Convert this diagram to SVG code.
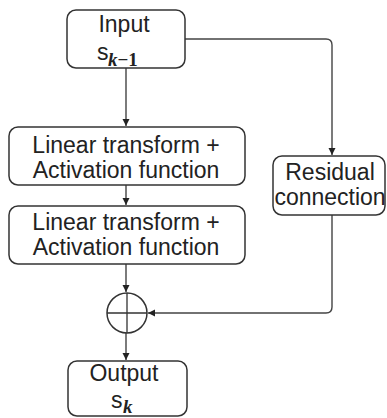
<svg xmlns="http://www.w3.org/2000/svg" width="387" height="418" viewBox="0 0 387 418">
<style>
.box{fill:#fff;stroke:#333;stroke-width:1.5}
.t{font-family:"Liberation Sans",Arial,sans-serif;font-size:23px;fill:#222;text-anchor:middle}
.s{font-family:"Liberation Sans",Arial,sans-serif;font-size:23px;fill:#222}
.m{font-family:"Liberation Serif","Times New Roman",serif;font-weight:bold;font-size:19px;fill:#222}
.c{fill:none;stroke:#444;stroke-width:1.4}
</style>
<defs>
<marker id="ah" markerWidth="8" markerHeight="8" refX="7" refY="4" orient="auto" markerUnits="userSpaceOnUse">
<path d="M0,0.5 L7,4 L0,7.5 Z" fill="#222"/>
</marker>
</defs>
<g id="connectors">
<path class="c" d="M126,68 V126" marker-end="url(#ah)"/>
<path class="c" d="M126,185 V205" marker-end="url(#ah)"/>
<path class="c" d="M126,264 V292" marker-end="url(#ah)"/>
<path class="c" d="M126,333 V360" marker-end="url(#ah)"/>
<path class="c" d="M185,39 H326 Q332,39 332,45 V155" marker-end="url(#ah)"/>
<path class="c" d="M332,215 V307 Q332,313 326,313 H148" marker-end="url(#ah)"/>
</g>
<g id="input">
<rect class="box" x="67" y="10" width="118" height="58" rx="9"/>
<text class="t" x="124" y="32">Input</text>
<text class="s" x="97" y="60">s</text>
<text class="m" x="108" y="66"><tspan font-style="italic">k</tspan>−1</text>
</g>
<g id="linear1">
<rect class="box" x="9" y="127" width="236" height="58" rx="9"/>
<text class="t" x="126" y="153">Linear transform +</text>
<text class="t" x="126" y="178">Activation function</text>
</g>
<g id="linear2">
<rect class="box" x="9" y="206" width="236" height="58" rx="9"/>
<text class="t" x="126" y="230">Linear transform +</text>
<text class="t" x="126" y="255">Activation function</text>
</g>
<g id="residual">
<rect class="box" x="273" y="156" width="112" height="59" rx="9"/>
<text class="t" x="330" y="180">Residual</text>
<text class="t" x="330" y="205">connection</text>
</g>
<g id="sum">
<circle cx="127" cy="313" r="20" fill="none" stroke="#333" stroke-width="1.5"/>
<path d="M107,313 H147 M127,293 V333" stroke="#333" stroke-width="1.3"/>
</g>
<g id="output">
<rect class="box" x="68" y="361" width="119" height="55" rx="9"/>
<text class="t" x="124" y="381">Output</text>
<text class="s" x="111" y="408">s</text>
<text class="m" x="123" y="413" font-style="italic">k</text>
</g>
</svg>
